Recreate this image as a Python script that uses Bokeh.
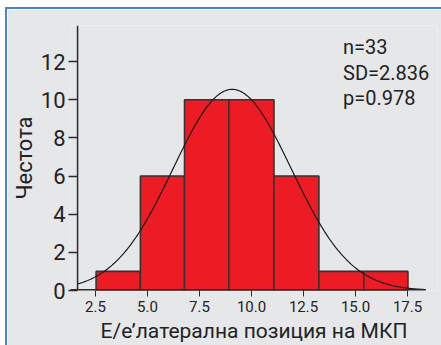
import numpy as np
from bokeh.plotting import figure
from bokeh.models import Range1d, FixedTicker, Span, Label
from bokeh.embed import file_html
from bokeh.resources import INLINE

# ---- data ----
bin_edges = [2.53, 4.66, 6.78, 8.91, 11.08, 13.24, 15.40, 17.52]
counts = [1, 6, 10, 10, 6, 1, 1]
x_ticks = [2.5, 5.0, 7.5, 10.0, 12.5, 15.0, 17.5]
y_ticks = [0, 2, 4, 6, 8, 10, 12]
stat_n = 33
stat_sd = 2.836
stat_p = 0.978
fit_mean = 9.07
x_label = "Е/е’латерална позиция на МКП"
y_label = "Честота"

FONT = "Roboto"
BG = "#e6e7e9"
DARK = "#2b2b2b"
X0, X_AXIS_END = 1.30, 18.37

p = figure(width=434, height=336, output_backend="svg", toolbar_location=None,
           x_range=Range1d(X0, 18.94), y_range=Range1d(0, 13.89),
           frame_width=367, frame_height=265,
           min_border_left=63, min_border_right=4, min_border_top=16, min_border_bottom=55,
           background_fill_color=BG, border_fill_color=BG, outline_line_color=None)
p.margin = (7, 0, 0, 5)
p.styles = {"border-left": "2px solid #4d80cf", "border-top": "2px solid #4d80cf"}
p.grid.visible = False

# bars
lefts = bin_edges[:-1]
rights = bin_edges[1:]
p.quad(left=lefts, right=rights, bottom=0, top=counts,
       fill_color="#ed1c24", line_color="#333333", line_width=1.6)

# fitted normal curve from the displayed statistics
bw = (bin_edges[-1] - bin_edges[0]) / len(counts)
total = sum(counts)
xs = np.linspace(1.62, X_AXIS_END, 300)
ys = total * bw * np.exp(-0.5 * ((xs - fit_mean) / stat_sd) ** 2) / (stat_sd * np.sqrt(2 * np.pi))
p.line(xs, ys, line_color="#1a1a1a", line_width=1.2)

# axis lines (y inside the frame, x ending before the frame edge)
p.add_layout(Span(location=1.64, dimension="height", line_color=DARK, line_width=1.5))
p.segment(x0=[X0], x1=[X_AXIS_END], y0=[0], y1=[0], line_color=DARK, line_width=3)

# axes
xa = p.xaxis[0]
xa.ticker = FixedTicker(ticks=x_ticks)
xa.major_label_overrides = {t: f"{t:.1f}" for t in x_ticks}
xa.minor_tick_line_color = None
xa.axis_line_color = None
xa.major_tick_line_color = DARK
xa.major_tick_in = 0
xa.major_tick_out = 6
xa.major_label_standoff = 4
xa.major_label_text_font = FONT
xa.major_label_text_font_size = "15px"
xa.major_label_text_color = "#222222"
xa.axis_label = x_label
xa.axis_label_text_font = FONT
xa.axis_label_text_font_style = "normal"
xa.axis_label_text_font_size = "21px"
xa.axis_label_text_color = "#222222"
xa.axis_label_standoff = 4

ya = p.yaxis[0]
ya.ticker = FixedTicker(ticks=y_ticks)
ya.minor_tick_line_color = None
ya.axis_line_color = None
ya.major_tick_line_color = DARK
ya.major_tick_line_width = 1.3
ya.major_tick_in = 7
ya.major_tick_out = 2
ya.major_label_standoff = 3
ya.major_label_text_font = FONT
ya.major_label_text_font_size = "22px"
ya.major_label_text_color = "#222222"
ya.axis_label = y_label
ya.axis_label_text_font = FONT
ya.axis_label_text_font_style = "normal"
ya.axis_label_text_font_size = "22px"
ya.axis_label_text_color = "#222222"
ya.axis_label_standoff = 1

# statistics text
stats = [f"n={stat_n}", f"SD={stat_sd:.3f}", f"p={stat_p:.3f}"]
for i, s in enumerate(stats):
    p.add_layout(Label(x=14.40, y=12.74 - i * 1.33, text=s, text_font=FONT,
                       text_font_size="20px", text_color="#222222",
                       text_baseline="alphabetic"))

open("out.html", "w").write(file_html(p, INLINE))
